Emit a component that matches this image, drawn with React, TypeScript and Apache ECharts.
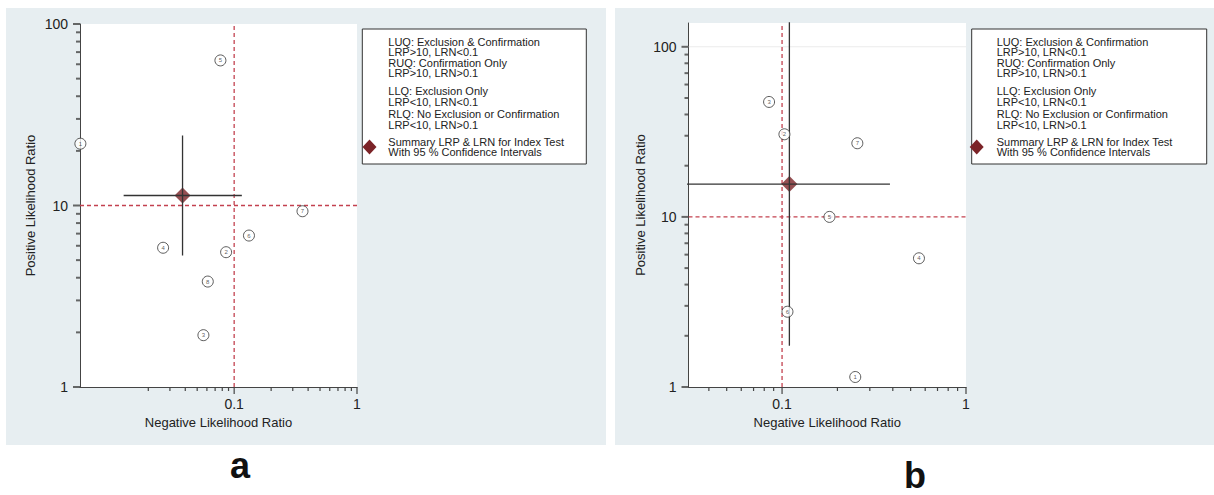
import React, { useEffect, useRef } from "react";
import * as echarts from "echarts";

// ---------- data ----------
const studyIdsA = ["1", "2", "3", "4", "5", "6", "7", "8"];
const lrnA = [0.0056, 0.086, 0.0562, 0.0264, 0.0773, 0.132, 0.36, 0.061];
const lrpA = [21.9, 5.53, 1.93, 5.85, 63, 6.83, 9.3, 3.81];
const summaryPointA = [0.038, 11.35];
const summaryCiLrnA = [0.0126, 0.1155];
const summaryCiLrpA = [5.3, 24.3];

const studyIdsB = ["1", "2", "3", "4", "5", "6", "7"];
const lrnB = [0.25, 0.103, 0.085, 0.555, 0.181, 0.107, 0.2566];
const lrpB = [1.145, 30.6, 47.4, 5.71, 10.0, 2.77, 27.1];
const summaryPointB = [0.1096, 15.6];
const summaryCiLrnB = [0.025, 0.386];
const summaryCiLrpB = [1.75, 200];

const xLabelValues = [0.1, 1];
const yLabelValues = [1, 10, 100];
const xMajorTicks = [0.1, 1];
const xMinorTicks = [0.02, 0.03, 0.04, 0.05, 0.06, 0.07, 0.08, 0.09, 0.2, 0.3, 0.4, 0.5, 0.6, 0.7, 0.8, 0.9];
const yMajorTicks = [1, 10, 100];
const yMinorTicks = [2, 3, 4, 5, 6, 7, 8, 9, 20, 30, 40, 50, 60, 70, 80, 90];
const refLrn = 0.1;
const refLrp = 10;

const legendLines = [
  "LUQ: Exclusion & Confirmation",
  "LRP>10, LRN<0.1",
  "RUQ: Confirmation Only",
  "LRP>10, LRN>0.1",
  "LLQ: Exclusion Only",
  "LRP<10, LRN<0.1",
  "RLQ: No Exclusion or Confirmation",
  "LRP<10, LRN>0.1",
  "Summary LRP & LRN for Index Test",
  "With 95 % Confidence Intervals",
];

// ---------- styling ----------
const FONT = '"Liberation Sans", Arial, Helvetica, sans-serif';
const PANEL_BG = "#e7eef1";
const AXIS_COLOR = "#444";
const TEXT_COLOR = "#222";
const REF_COLOR = "#c3414f";
const DIAMOND_COLOR = "#7b2327";

const fmt = (allowed: number[]) => (v: number) => {
  const m = allowed.find((a) => Math.abs(Math.log10(v) - Math.log10(a)) < 1e-6);
  return m !== undefined ? String(m) : "";
};

function makeAxes(gi: number, xmin: number, ymax: number, yNameGap: number) {
  const common = {
    type: "log",
    logBase: 10,
    gridIndex: gi,
    nameLocation: "middle",
    nameTextStyle: { fontSize: 13, color: TEXT_COLOR, fontFamily: FONT },
    axisTick: { show: false },
    minorTick: { show: false },
    splitLine: { show: false },
    minorSplitLine: { show: false },
  };
  const xAxis = {
    ...common,
    axisLine: { show: true, onZero: false, lineStyle: { color: AXIS_COLOR, width: 1 } },
    min: xmin,
    max: 1,
    name: "Negative Likelihood Ratio",
    nameGap: 20,
    axisLabel: {
      fontSize: 14,
      color: TEXT_COLOR,
      fontFamily: FONT,
      margin: 10,
      showMinLabel: true,
      showMaxLabel: true,
      formatter: fmt(xLabelValues),
    },
  };
  const yAxis = {
    ...common,
    axisLine: { show: true, onZero: false, lineStyle: { color: AXIS_COLOR, width: 1 } },
    min: 1,
    max: ymax,
    name: "Positive Likelihood Ratio",
    nameGap: yNameGap,
    axisLabel: {
      fontSize: 14,
      color: TEXT_COLOR,
      fontFamily: FONT,
      margin: 12,
      showMinLabel: true,
      showMaxLabel: true,
      formatter: fmt(yLabelValues),
    },
  };
  return { xAxis, yAxis };
}

function segment(gi: number, data: number[][], color: string, type: any, width: number, z: number) {
  return {
    type: "line",
    xAxisIndex: gi,
    yAxisIndex: gi,
    z,
    symbol: "none",
    clip: true,
    lineStyle: { color, type, width },
    emphasis: { disabled: true },
    data,
  };
}

function yTickSeries(gi: number, data: number[][], len: number) {
  return {
    type: "scatter",
    xAxisIndex: gi,
    yAxisIndex: gi,
    clip: false,
    z: 6,
    symbol: "rect",
    symbolSize: [len, 2],
    symbolOffset: [-len / 2, 0],
    itemStyle: { color: AXIS_COLOR },
    data,
  };
}

function makeSeries(
  gi: number,
  ids: string[],
  xs: number[],
  ys: number[],
  sp: number[],
  ciX: number[],
  ciY: number[],
  xMinAxis: number,
  yMaxAxis: number,
  gridAt100: boolean
) {
  const series: any[] = [];
  if (gridAt100) {
    series.push(segment(gi, [[xMinAxis, 100], [1, 100]], "#ebebeb", "solid", 1, 1));
  }
  series.push(
    segment(gi, [[refLrn, 1], [refLrn, yMaxAxis]], REF_COLOR, [4, 3], 1.3, 2),
    segment(gi, [[xMinAxis, refLrp], [1, refLrp]], REF_COLOR, [4, 3], 1.4, 2),
    {
      type: "scatter",
      xAxisIndex: gi,
      yAxisIndex: gi,
      clip: false,
      z: 5,
      symbol: "circle",
      symbolSize: 11,
      itemStyle: { color: "#ffffff", borderColor: "#333", borderWidth: 1 },
      label: {
        show: true,
        position: "inside",
        fontSize: 6,
        color: "#333",
        fontFamily: FONT,
        formatter: (p: any) => p.value[2],
      },
      data: xs.map((x, i) => [x, ys[i], ids[i]]),
    },
    {
      type: "scatter",
      xAxisIndex: gi,
      yAxisIndex: gi,
      z: 3,
      symbol: "diamond",
      symbolSize: 16,
      itemStyle: { color: DIAMOND_COLOR },
      data: [sp],
    },
    segment(gi, [[ciX[0], sp[1]], [ciX[1], sp[1]]], "#333", "solid", 1.3, 4),
    segment(gi, [[sp[0], ciY[0]], [sp[0], ciY[1]]], "#333", "solid", 1.3, 4),
    // x axis ticks below the axis line
    {
      type: "custom",
      xAxisIndex: gi,
      yAxisIndex: gi,
      z: 6,
      clip: false,
      data: [
        ...xMajorTicks.map((v) => [v, 7]),
        ...xMinorTicks.filter((v) => v > xMinAxis).map((v) => [v, 4]),
      ],
      renderItem: (params: any, api: any) => {
        const p = api.coord([api.value(0), 2]);
        const cs = params.coordSys;
        const bottom = cs.y + cs.height;
        return {
          type: "line",
          shape: { x1: p[0], y1: bottom, x2: p[0], y2: bottom + api.value(1) },
          style: { stroke: AXIS_COLOR, lineWidth: 1.2 },
        };
      },
    },
    // y axis ticks left of the axis line
    yTickSeries(gi, yMajorTicks.map((v) => [xMinAxis, v]), 7),
    yTickSeries(gi, yMinorTicks.map((v) => [xMinAxis, v]), 4)
  );
  return series;
}

function legendElements(left: number, top: number, width: number, height: number, textX: number, diamondCx: number) {
  const offsets = [12.7, 23.3, 34.3, 44.3, 62, 72.7, 85, 96, 112.7, 123];
  const els: any[] = [
    {
      type: "rect",
      z: 1,
      shape: { x: left, y: top, width, height },
      style: { fill: "#ffffff", stroke: "#333", lineWidth: 1 },
    },
    {
      type: "polygon",
      z: 2,
      shape: {
        points: [
          [diamondCx, top + 110.5],
          [diamondCx + 7, top + 118],
          [diamondCx, top + 125.5],
          [diamondCx - 7, top + 118],
        ],
      },
      style: { fill: DIAMOND_COLOR },
    },
  ];
  legendLines.forEach((t, i) => {
    els.push({
      type: "text",
      z: 2,
      x: textX,
      y: top + offsets[i],
      style: {
        text: t,
        fontSize: 11,
        fontFamily: FONT,
        fill: "#222",
        align: "left",
        verticalAlign: "middle",
      },
    });
  });
  return els;
}

export default function App() {
  const ref = useRef<HTMLDivElement>(null);
  useEffect(() => {
    if (!ref.current) return;
    const chart = echarts.init(ref.current, undefined, { renderer: "svg" });
    const xMinA = 0.00556;
    const xMinB = 0.031;
    const yMaxA = 100;
    const yMaxB = 138;
    const axA = makeAxes(0, xMinA, yMaxA, 43);
    const axB = makeAxes(1, xMinB, yMaxB, 42);
    const option: any = {
      animation: false,
      textStyle: { fontFamily: FONT },
      grid: [
        { left: 80, top: 24, width: 277, height: 363, show: true, backgroundColor: "#ffffff", borderWidth: 0 },
        { left: 688.5, top: 23, width: 277.5, height: 364, show: true, backgroundColor: "#ffffff", borderWidth: 0 },
      ],
      xAxis: [axA.xAxis, axB.xAxis],
      yAxis: [axA.yAxis, axB.yAxis],
      series: [
        ...makeSeries(0, studyIdsA, lrnA, lrpA, summaryPointA, summaryCiLrnA, summaryCiLrpA, xMinA, yMaxA, false),
        ...makeSeries(1, studyIdsB, lrnB, lrpB, summaryPointB, summaryCiLrnB, summaryCiLrpB, xMinB, yMaxB, true),
      ],
      graphic: {
        elements: [
          { type: "rect", z: -10, silent: true, shape: { x: 6, y: 8, width: 600, height: 437 }, style: { fill: PANEL_BG } },
          { type: "rect", z: -10, silent: true, shape: { x: 615, y: 8, width: 599, height: 437 }, style: { fill: PANEL_BG } },
          ...legendElements(362.3, 29, 224, 135, 388.3, 369.5),
          ...legendElements(971.7, 29, 235, 135, 996.7, 976.7),
          {
            type: "text",
            x: 240,
            y: 465,
            style: { text: "a", fontSize: 36, fontWeight: "bold", fontFamily: FONT, fill: "#111", align: "center", verticalAlign: "middle" },
          },
          {
            type: "text",
            x: 915,
            y: 475,
            style: { text: "b", fontSize: 36, fontWeight: "bold", fontFamily: FONT, fill: "#111", align: "center", verticalAlign: "middle" },
          },
        ],
      },
    };
    chart.setOption(option);
    return () => chart.dispose();
  }, []);
  return (
    <div
      ref={ref}
      style={{ position: "fixed", left: 0, top: 0, width: 1214, height: 495, background: "#ffffff" }}
    />
  );
}
